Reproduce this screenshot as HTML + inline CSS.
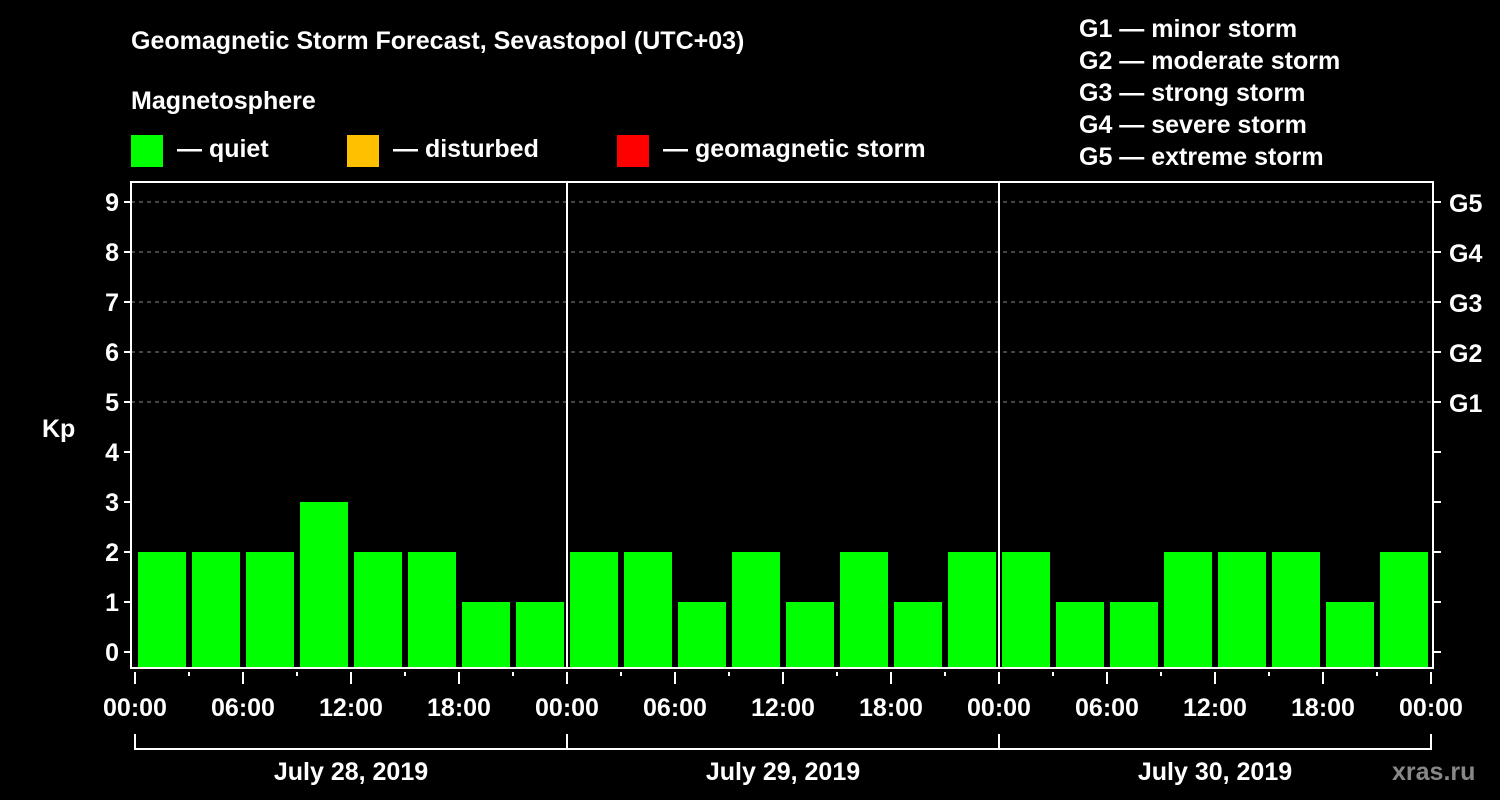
<!DOCTYPE html>
<html><head><meta charset="utf-8"><style>
html,body{margin:0;padding:0;background:#000;}
svg{display:block;font-family:"Liberation Sans",Arial,sans-serif;font-weight:bold;}
</style></head><body>
<svg id="chart" width="1500" height="800" viewBox="0 0 1500 800">
<rect width="1500" height="800" fill="#000"/>
<text x="131" y="49" fill="#fff" font-size="25">Geomagnetic Storm Forecast, Sevastopol (UTC+03)</text>
<text x="131" y="109" fill="#fff" font-size="25">Magnetosphere</text>
<g>
<rect x="131" y="135" width="32" height="32" fill="#00ff00"/>
<text x="177" y="157" fill="#fff" font-size="25">— quiet</text></g>
<g>
<rect x="347" y="135" width="32" height="32" fill="#ffc000"/>
<text x="393" y="157" fill="#fff" font-size="25">— disturbed</text></g>
<g>
<rect x="617" y="135" width="32" height="32" fill="#ff0000"/>
<text x="663" y="157" fill="#fff" font-size="25">— geomagnetic storm</text></g>
<g font-size="25" fill="#fff">
<text x="1079" y="37">G1 — minor storm</text>
<text x="1079" y="69">G2 — moderate storm</text>
<text x="1079" y="101">G3 — strong storm</text>
<text x="1079" y="133">G4 — severe storm</text>
<text x="1079" y="165">G5 — extreme storm</text>
</g>
<text x="42" y="437" fill="#fff" font-size="25">Kp</text>
<text x="1392" y="780" fill="#888" font-size="25">xras.ru</text>
<g id="grid"></g><g id="bars"></g><g id="axes"></g>
</svg>
<script>
const days = ["July 28, 2019","July 29, 2019","July 30, 2019"];
const kpValues = [2,2,2,3,2,2,1,1, 2,2,1,2,1,2,1,2, 2,1,1,2,2,2,1,2];
const yTicks = [0,1,2,3,4,5,6,7,8,9];
const gLabels = [[5,"G1"],[6,"G2"],[7,"G3"],[8,"G4"],[9,"G5"]];
const hourLabels = ["00:00","06:00","12:00","18:00"];

const NS="http://www.w3.org/2000/svg";
const X0=135, DAYW=432, L=131, R=1433, T=182, B=668;
const xH = h => X0 + h*DAYW/24;
const yK = k => 652 - k*50;
function mk(tag, attrs, parent){const e=document.createElementNS(NS,tag);for(const k in attrs)e.setAttribute(k,attrs[k]);document.getElementById(parent).appendChild(e);return e;}

yTicks.forEach(k=>{
  if(k>=5){
    const g=mk('line',{x1:L,x2:R,y1:yK(k),y2:yK(k),stroke:'#888','stroke-dasharray':'4,4','stroke-width':1},'grid');
    
    
  }
  const t=mk('line',{x1:L-7,x2:L,y1:yK(k),y2:yK(k),stroke:'#fff','stroke-width':2},'axes');
  
  
  const rt=mk('line',{x1:R,x2:R+8,y1:yK(k),y2:yK(k),stroke:'#fff','stroke-width':2},'axes');
  
  
  const tx=mk('text',{x:L-12,y:yK(k)+9,fill:'#fff','font-size':25,'text-anchor':'end'},'axes');
  tx.textContent=k;
  
  
});
gLabels.forEach(([k,s])=>{
  const tx=mk('text',{x:1449,y:yK(k)+10,fill:'#fff','font-size':25},'axes');
  tx.textContent=s;
  
  
});
kpValues.forEach((v,i)=>{
  const x=xH(i*3)+3, y=yK(v);
  const b=mk('rect',{x:x,y:y,width:48,height:B-y,fill:'#00ff00'},'bars');
  
  
});
const fr=mk('rect',{x:L,y:T,width:R-L,height:B-T,fill:'none',stroke:'#fff','stroke-width':2},'axes');


for(let d=1;d<days.length;d++){
  const s=mk('line',{x1:xH(d*24),x2:xH(d*24),y1:T,y2:B,stroke:'#fff','stroke-width':2},'axes');
  
  
}
for(let h=0;h<=72;h+=3){
  const major=h%6===0;
  const t=mk('line',{x1:xH(h),x2:xH(h),y1:B+4,y2:B+(major?16:8),stroke:'#fff','stroke-width':2},'axes');
  
  
  if(major){
    const tx=mk('text',{x:xH(h),y:716,fill:'#fff','font-size':25,'text-anchor':'middle'},'axes');
    tx.textContent=hourLabels[(h/6)%4];
    
    
  }
}
const br=mk('polyline',{points:`${xH(0)},734 ${xH(0)},749 ${xH(72)},749 ${xH(72)},734`,fill:'none',stroke:'#fff','stroke-width':2},'axes');


days.forEach((d,i)=>{
  if(i>0){
    const v=mk('line',{x1:xH(i*24),x2:xH(i*24),y1:734,y2:749,stroke:'#fff','stroke-width':2},'axes');
    
    
  }
  const tx=mk('text',{x:xH(i*24+12),y:780,fill:'#fff','font-size':25,'text-anchor':'middle'},'axes');
  tx.textContent=d;
  
  
});
</script>
</body></html>
